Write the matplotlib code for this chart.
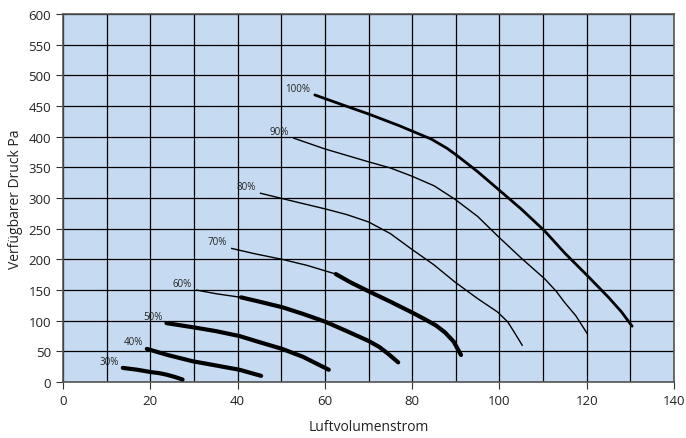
import numpy as np
import matplotlib.pyplot as plt

plt.rcParams['font.family'] = ['Open Sans', 'DejaVu Sans']

# fan curves
x100 = [57.7, 64, 70, 77, 84.4, 88, 90.5, 95, 99.6, 105, 110.4, 115, 120.2, 125, 128, 130.4]
y100 = [468, 452, 437, 418, 396, 381, 368, 343, 315, 282, 246, 210, 173, 138, 114, 91]
x90 = [52.7, 60, 70, 75, 79.8, 85, 89.8, 95, 99.6, 105, 110.4, 113, 114.9, 117.5, 120.2]
y90 = [398, 380, 359, 349, 336, 320, 298, 270, 238, 202, 168, 148, 130, 108, 78]
x80 = [45.1, 52, 60.2, 65, 70, 75, 79.8, 85, 89.8, 95, 99.6, 101.9, 103.5, 105.3]
y80 = [308, 296, 282, 273, 261, 242, 217, 191, 163, 136, 114, 98, 80, 59]
x70 = [38.5, 44, 50.2, 56, 62.5, 66, 70, 75, 79.8, 83, 85.5, 87.5, 89.5, 91.2]
y70 = [218, 209, 200, 190, 176, 162, 148, 131, 114, 102, 92, 81, 66, 44]
x60 = [30.5, 35, 40.8, 45, 50.2, 55, 60.2, 65, 70, 72.5, 74.5, 76.8]
y60 = [150, 144, 138, 131, 122, 111, 98, 83, 67, 57, 46, 32]
x50 = [23.7, 30, 35, 40.4, 45, 50.2, 55, 60.9]
y50 = [96, 89, 83, 75, 65, 54, 41, 20]
x40 = [19.2, 24, 29.6, 35, 40.4, 45.4]
y40 = [54, 44, 34, 27, 20, 10]
x30 = [13.7, 17, 20.3, 22, 23.7, 25.5, 27.4]
y30 = [23, 20, 16, 14.5, 12, 8.5, 4]

labels = ['100%', '90%', '80%', '70%', '60%', '50%', '40%', '30%']
xs = [x100, x90, x80, x70, x60, x50, x40, x30]
ys = [y100, y90, y80, y70, y60, y50, y40, y30]
thick_from = [0, None, None, 4, 2, 0, 0, 0]
thick_w = [2.0, 0, 0, 3.0, 3.0, 3.0, 3.0, 3.0]

fig = plt.figure(figsize=(6.86, 4.39), dpi=100)
ax = fig.add_axes([63/686, 1 - 383/439, 611/686, 368/439])
ax.set_facecolor('#C6DBF1')

for lab, x, y, t, w in zip(labels, xs, ys, thick_from, thick_w):
    x = np.array(x)
    y = np.array(y)
    if t is None or t > 0:
        end = len(x) if t is None else t + 1
        ax.plot(x[:end], y[:end], color='black', lw=1.0, solid_capstyle='butt',
                solid_joinstyle='round', zorder=3)
    if t is not None:
        ax.plot(x[t:], y[t:], color='black', lw=w, solid_capstyle='round',
                solid_joinstyle='round', zorder=3)
    ax.annotate(lab, (x[0], y[0]), xytext=(-3, 1), textcoords='offset points',
                ha='right', va='bottom', fontsize=7, color='#222222')

ax.set_xlim(0, 140)
ax.set_ylim(0, 600)
ax.set_xticks(np.arange(0, 141, 20))
ax.set_xticks(np.arange(0, 141, 10), minor=True)
ax.set_yticks(np.arange(0, 601, 50))
ax.tick_params(axis='x', which='minor', length=0)
ax.tick_params(axis='both', which='major', labelsize=9.5, length=5, color='#333333', labelcolor='#222222')
ax.grid(True, which='both', color='black', lw=0.9, zorder=1)
ax.set_axisbelow(True)
for s in ax.spines.values():
    s.set_color('#555555')
    s.set_linewidth(1.2)

ax.set_xlabel('Luftvolumenstrom', fontsize=10, color='#222222', labelpad=9)
ax.set_ylabel('Verfügbarer Druck Pa', fontsize=10, color='#222222', labelpad=4)

fig.savefig('out.png', dpi=100)
